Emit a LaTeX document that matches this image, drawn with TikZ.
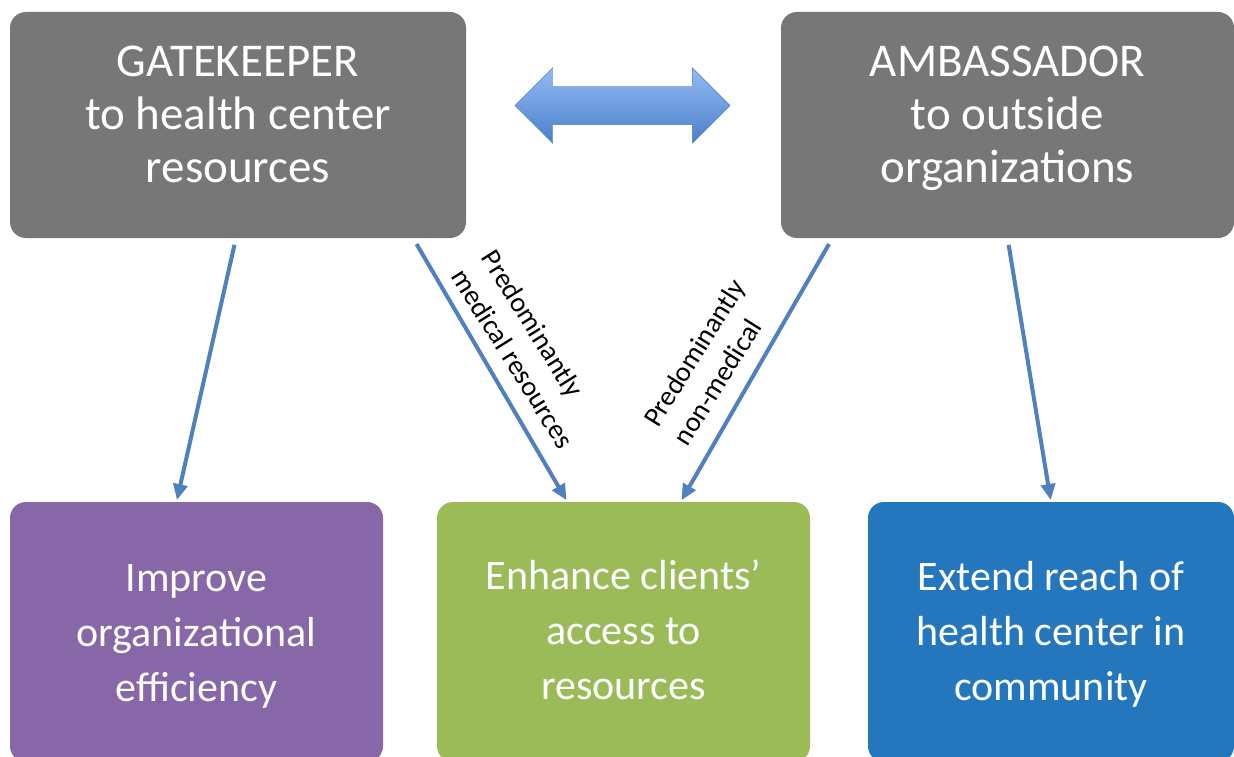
\documentclass[tikz,border=0pt]{standalone}
\usepackage{fontspec}
\setmainfont{Carlito}
\usetikzlibrary{arrows.meta,shapes.arrows}
\definecolor{rolegray}{HTML}{777777}
\definecolor{goalpurple}{HTML}{8767A8}
\definecolor{goalgreen}{HTML}{9BBB59}
\definecolor{goalblue}{HTML}{2577BD}
\definecolor{linkblue}{HTML}{4F81BD}
\definecolor{swaptop}{HTML}{93BBF3}
\definecolor{swapbottom}{HTML}{4A7FCB}
\tikzstyle{box}=[rectangle, rounded corners=16pt, outer sep=0pt, inner sep=0pt]
\tikzstyle{roletext}=[text=white, align=center, font=\fontsize{47}{53}\selectfont]
\tikzstyle{goaltext}=[text=white, align=center, font=\fontsize{42}{55}\selectfont]
\tikzstyle{link}=[line width=4pt, draw=linkblue, -{Triangle[length=16pt,width=14pt]}, shorten <=7pt, shorten >=2pt]
\tikzstyle{note}=[align=left, font=\fontsize{28}{35}\selectfont]

\begin{document}
\begin{tikzpicture}[x=1pt, y=-1pt]
\clip (0,0) rectangle (1234,757);
\fill[white] (0,0) rectangle (1234,757);
% roles
\node[box, fill=rolegray, minimum width=456pt, minimum height=226pt] (gate) at (238,125) {};
\node[box, fill=rolegray, minimum width=453pt, minimum height=226pt] (amb) at (1007.5,125) {};
\node[roletext] (gatetext) at ([yshift=11pt]gate.center) {GATEKEEPER\\to health center\\resources};
\node[roletext] (ambtext) at ([yshift=6.5pt]amb.center) {AMBASSADOR\\to outside\\organizations};
\node[double arrow, double arrow head extend=18.5pt, minimum height=215pt, minimum width=75pt,
      text height=19pt, text depth=19pt, inner sep=0pt, draw=linkblue,
      top color=swaptop, bottom color=swapbottom] (swap) at (622.5,105.5) {};
% goals
\node[box, fill=goalpurple, minimum width=373pt, minimum height=260pt] (improve) at (196.5,632) {};
\node[box, fill=goalgreen, minimum width=373pt, minimum height=260pt] (enhance) at (623.5,632) {};
\node[box, fill=goalblue, minimum width=366pt, minimum height=260pt] (extend) at (1051,632) {};
\node[goaltext] (improvetext) at ([yshift=-4pt]improve.center) {Improve\\organizational\\efficiency};
\node[goaltext] (enhancetext) at ([yshift=2pt]enhance.center) {Enhance clients’\\access to\\resources};
\node[goaltext] (extendtext) at ([yshift=-2.5pt]extend.center) {Extend reach of\\health center in\\community};
% links
\draw[link] ([xshift=-2pt]gate.south) -- ([xshift=-20pt]improve.north);
\draw[link] ([xshift=175pt]gate.south) -- ([xshift=-56pt]enhance.north);
\draw[link] ([xshift=-175pt]amb.south) -- ([xshift=57pt]enhance.north);
\draw[link] (amb.south) -- (extend.north);
\node[note, rotate=-58] (medical) at (528,349) {Predominantly\\medical resources};
\node[note, rotate=58] (nonmedical) at (709,362) {Predominantly\\non-medical};
\end{tikzpicture}
\end{document}
